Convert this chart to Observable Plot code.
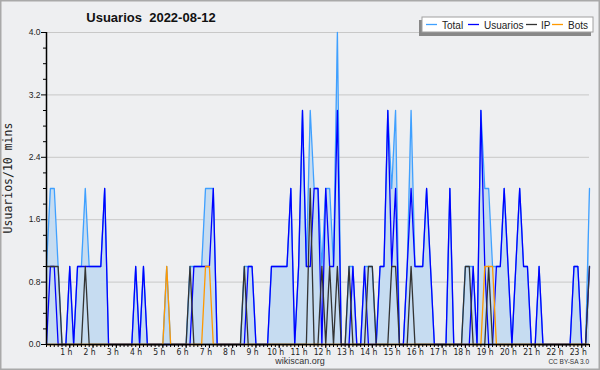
<!DOCTYPE html>
<html><head><meta charset="utf-8">
<script src="https://cdn.jsdelivr.net/npm/d3@7"></script>
<script src="https://cdn.jsdelivr.net/npm/@observablehq/plot@0.6"></script>
<style>html,body{margin:0;padding:0;background:#eeeff1;} svg{display:block}</style>
</head><body><div id="chart"></div>
<script>
const titleText = "Usuarios  2022-08-12";
const yTitle = "Usuarios/10 mins";
const seriesNames = ["Total", "Usuarios", "IP", "Bots"];
const seriesColors = ["#3fa0ff", "#0000ff", "#333333", "#ff9900"];
const fillColor = "#c6dcf1";
const yMajor = [0, 0.8, 1.6, 2.4, 3.2, 4.0];
const yMinor = [0.2, 0.4, 0.6, 1.0, 1.2, 1.4, 1.8, 2.0, 2.2, 2.6, 2.8, 3.0, 3.4, 3.6, 3.8];
const hourTicks = [1,2,3,4,5,6,7,8,9,10,11,12,13,14,15,16,17,18,19,20,21,22,23];
const stepMinutes = 10;

// values every 10 minutes from 00:00 to 23:20
const total = [
  1,2,2,1,0,0,1,0,1,1,
  2,1,1,1,1,2,0,0,0,0,
  0,0,0,1,0,1,0,0,0,0,
  0,1,0,0,0,0,0,1,1,1,
  1,2,2,2,0,0,0,0,0,0,
  0,1,1,1,0,0,0,0,1,1,
  1,1,1,2,0,1,3,1,3,2,
  2,1,2,2,1,4,0,0,1,1,
  0,0,1,1,1,0,1,1,3,2,
  3,0,0,1,3,1,1,1,2,1,
  0,0,0,0,2,0,0,0,1,1,
  1,0,3,2,2,1,1,1,2,1,
  0,1,2,1,1,0,0,1,0,0,
  0,0,0,0,0,0,1,1,0,0,
  2];
const usuarios = [
  0,1,1,0,0,0,1,0,1,1,
  1,1,1,1,1,2,0,0,0,0,
  0,0,0,1,0,1,0,0,0,0,
  0,0,0,0,0,0,0,0,1,1,
  1,1,1,2,0,0,0,0,0,0,
  0,0,1,1,0,0,0,0,1,1,
  1,1,1,2,0,1,3,1,1,2,
  2,0,2,1,1,3,0,0,0,1,
  0,0,1,0,0,0,1,1,3,1,
  2,0,0,1,2,1,1,1,2,1,
  0,0,0,0,2,0,0,0,0,0,
  1,0,3,1,0,0,1,1,2,1,
  0,1,2,1,1,0,0,1,0,0,
  0,0,0,0,0,0,1,1,0,0,
  1];
const ip = [
  1,1,1,1,0,0,0,0,0,0,
  1,0,0,0,0,0,0,0,0,0,
  0,0,0,0,0,0,0,0,0,0,
  0,0,0,0,0,0,0,1,0,0,
  0,0,0,0,0,0,0,0,0,0,
  0,1,0,0,0,0,0,0,0,0,
  0,0,0,0,0,0,0,0,2,0,
  0,1,0,1,0,1,0,0,1,0,
  0,0,0,1,1,0,0,0,0,1,
  1,0,0,0,1,0,0,0,0,0,
  0,0,0,0,0,0,0,0,1,1,
  0,0,0,0,1,0,0,0,0,0,
  0,0,0,0,0,0,0,0,0,0,
  0,0,0,0,0,0,0,0,0,0,
  1];
const bots = [
  0,0,0,0,0,0,0,0,0,0,
  0,0,0,0,0,0,0,0,0,0,
  0,0,0,0,0,0,0,0,0,0,
  0,1,0,0,0,0,0,0,0,0,
  0,1,1,0,0,0,0,0,0,0,
  0,0,0,0,0,0,0,0,0,0,
  0,0,0,0,0,0,0,0,0,0,
  0,0,0,0,0,0,0,0,0,0,
  0,0,0,0,0,0,0,0,0,0,
  0,0,0,0,0,0,0,0,0,0,
  0,0,0,0,0,0,0,0,0,0,
  0,0,0,1,1,1,0,0,0,0,
  0,0,0,0,0,0,0,0,0,0,
  0,0,0,0,0,0,0,0,0,0,
  0];

const hours = total.map((_, i) => i * stepMinutes / 60);
const rows = vals => vals.map((v, i) => ({h: hours[i], v}));
const seriesData = [total, usuarios, ip, bots];

const txt = "Liberation Sans, Arial, sans-serif";
const narrow = "Liberation Sans Narrow, DejaVu Sans Condensed, Liberation Sans, sans-serif";

const chart = Plot.plot({
  width: 600, height: 370,
  marginLeft: 46, marginRight: 11, marginTop: 32, marginBottom: 26,
  style: {background: "#eeeff1", overflow: "visible", fontFamily: txt},
  x: {domain: [0, hours[hours.length - 1]], label: null},
  y: {domain: [0, 4], label: null},
  marks: [
    Plot.gridY(yMajor.filter(d => d > 0), {stroke: "#c8c8c8", strokeOpacity: 1}),
    Plot.areaY(rows(total), {x: "h", y: "v", fill: fillColor}),
    ...seriesData.map((vals, k) => Plot.lineY(rows(vals), {x: "h", y: "v", stroke: seriesColors[k], strokeWidth: 1.3})),
    Plot.axisY(yMinor, {tickSize: 3, tickFormat: () => "", label: null, stroke: "#000"}),
    Plot.axisY(yMajor, {tickSize: 5, tickPadding: 1, tickFormat: d => d.toFixed(1), label: null, fontSize: 8.5, fontFamily: txt, fill: "#222", stroke: "#000"}),
    Plot.axisX(hours, {tickSize: 3, tickFormat: () => "", label: null, stroke: "#000"}),
    Plot.axisX(hourTicks, {tickSize: 4, tickFormat: () => "", label: null, stroke: "#000"}),
    Plot.text(hourTicks, {x: d => d, frameAnchor: "bottom", dy: 7.5, dx: -3.5, lineAnchor: "middle", text: d => d + " h", fontSize: 8.5, fontFamily: narrow, fill: "#222"}),
    Plot.ruleX([0], {stroke: "#000", strokeWidth: 1.5}),
    Plot.ruleY([0], {stroke: "#000", strokeWidth: 1.5})
  ]
});

document.getElementById("chart").appendChild(chart);
const svg = d3.select(chart);

// frame border
svg.append("rect").attr("x", 0.75).attr("y", 0.75).attr("width", 598.5).attr("height", 368.5)
  .attr("fill", "none").attr("stroke", "#a9a9a9").attr("stroke-width", 1.5);

// title
svg.append("text").attr("x", 151).attr("y", 22).attr("text-anchor", "middle")
  .attr("font-family", txt).attr("font-weight", "bold").attr("font-size", 13).attr("fill", "#111")
  .attr("xml:space", "preserve").style("white-space", "pre").text(titleText);

// y title
svg.append("text").attr("transform", "translate(12,178) rotate(-90)").attr("text-anchor", "middle")
  .attr("font-family", "DejaVu Sans Mono, monospace").attr("font-size", 11.5).attr("fill", "#222").text(yTitle);

// footer
svg.append("text").attr("x", 300).attr("y", 364).attr("text-anchor", "middle")
  .attr("font-family", txt).attr("font-size", 9).attr("fill", "#333").text("wikiscan.org");
svg.append("text").attr("x", 589).attr("y", 364).attr("text-anchor", "end")
  .attr("font-family", txt).attr("font-size", 6.5).attr("fill", "#333").text("CC BY-SA 3.0");

// legend
const lg = svg.append("g");
lg.append("rect").attr("x", 419).attr("y", 20).attr("width", 172).attr("height", 16).attr("fill", "#888");
lg.append("rect").attr("x", 422).attr("y", 17).attr("width", 171).attr("height", 15)
  .attr("fill", "#fff").attr("stroke", "#a0a0a0").attr("stroke-width", 1);
const legendX = [426, 468, 526, 552];
const legendTextX = [442, 484, 541, 568];
seriesNames.forEach((name, k) => {
  lg.append("line").attr("x1", legendX[k]).attr("x2", legendX[k] + 11).attr("y1", 24.5).attr("y2", 24.5)
    .attr("stroke", seriesColors[k]).attr("stroke-width", 1.3);
  lg.append("text").attr("x", legendTextX[k]).attr("y", 28.5).attr("text-anchor", "start")
    .attr("font-family", txt).attr("font-size", 10).attr("fill", "#222").text(name);
});
</script>
</body></html>
